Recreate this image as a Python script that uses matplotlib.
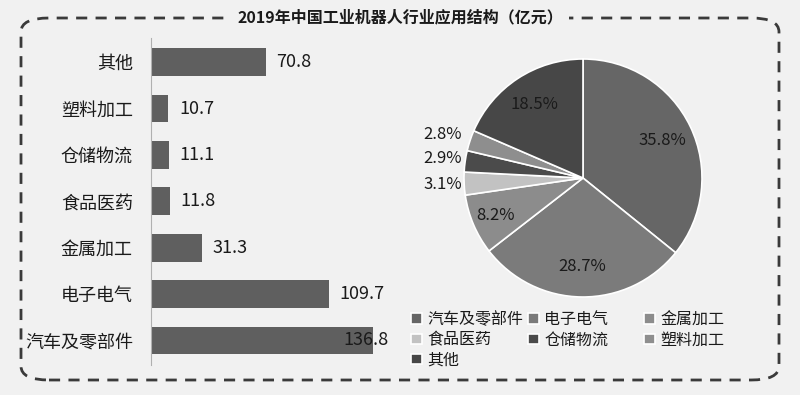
import numpy as np
import matplotlib.pyplot as plt
from matplotlib.patches import FancyBboxPatch

plt.rcParams['font.family'] = ['Noto Sans CJK SC', 'DejaVu Sans']

# data
cats = ["汽车及零部件", "电子电气", "金属加工", "食品医药", "仓储物流", "塑料加工", "其他"]
vals = [136.8, 109.7, 31.3, 11.8, 11.1, 10.7, 70.8]
pcts = [35.8, 28.7, 8.2, 3.1, 2.9, 2.8, 18.5]
pie_cols = ["#666666", "#7b7b7b", "#8c8c8c", "#c2c2c2", "#4b4b4b", "#8e8e8e", "#474747"]
title = "2019年中国工业机器人行业应用结构（亿元）"

W, H = 800, 395
fig = plt.figure(figsize=(W / 100, H / 100), dpi=100)
fig.patch.set_facecolor("#f1f1f1")

def fr(x0, y0, x1, y1):
    return [x0 / W, 1 - y1 / H, (x1 - x0) / W, (y1 - y0) / H]

# dashed rounded frame
frame = FancyBboxPatch((21 / W, 1 - 380 / H), 758 / W, 362 / H,
                       boxstyle="round,pad=0,rounding_size=0.035",
                       transform=fig.transFigure, fill=False,
                       ec="#3a3a3a", lw=2, ls=(0, (4, 3)))
fig.patches.append(frame)
fig.text(0.5, 1 - 17 / H, title, ha="center", va="center", fontsize=11.5,
         fontweight="bold", color="#1a1a1a",
         bbox=dict(boxstyle="square,pad=0.4", fc="#f1f1f1", ec="none"))

# bar chart
ax = fig.add_axes(fr(151, 38, 420, 365))
ax.set_facecolor("none")
y = np.arange(len(cats))
ax.barh(y, vals, height=0.6, color="#5f5f5f")
scale = 1.623
ax.set_xlim(0, (420 - 151) / scale)
ax.set_ylim(-0.53, 6.52)
ax.set_yticks(y)
ax.set_yticklabels(cats, fontsize=13, color="#1a1a1a")
ax.tick_params(axis="y", length=0, pad=13)
ax.set_xticks([])
for s in ["top", "right", "bottom"]:
    ax.spines[s].set_visible(False)
ax.spines["left"].set_color("#b0b0b0")
for yi, v in zip(y, vals):
    if v > 130:
        ax.text(v - 18, yi, f"{v}", va="center", ha="left", fontsize=13, color="#1a1a1a")
    else:
        ax.text(v + 6.5, yi, f"{v}", va="center", ha="left", fontsize=13, color="#1a1a1a")

# pie chart
pax = fig.add_axes(fr(583 - 119, 178 - 119, 583 + 119, 178 + 119))
wedges, _ = pax.pie(pcts, colors=pie_cols, startangle=90, counterclock=False,
                    wedgeprops=dict(edgecolor="white", linewidth=1.2))
pax.set_xlim(-1, 1)
pax.set_ylim(-1, 1)
pax.set_aspect("equal")
for w, p in zip(wedges, pcts):
    ang = np.deg2rad((w.theta1 + w.theta2) / 2)
    if p < 5:
        pax.text(-1.02, 1.15 * np.sin(ang), f"{p}%", ha="right", va="center",
                 fontsize=12, color="#1a1a1a")
    else:
        r = 0.8 if p < 10 else 0.74
        pax.text(r * np.cos(ang), r * np.sin(ang), f"{p}%", ha="center", va="center",
                 fontsize=12, color="#1a1a1a")

# legend, one column at a time so rows read left to right
cols_x = [405, 522, 638]
for c in range(3):
    idx = list(range(c, len(cats), 3))
    leg = fig.legend([wedges[i] for i in idx], [cats[i] for i in idx], loc="upper left",
                     bbox_to_anchor=(cols_x[c] / W, 1 - 305 / H), frameon=False,
                     fontsize=11.5, handlelength=0.65, handleheight=0.65,
                     handletextpad=0.35, labelspacing=0.2, borderaxespad=0)
    for t in leg.get_texts():
        t.set_color("#1a1a1a")

fig.savefig("out.png", dpi=100, facecolor=fig.get_facecolor())
